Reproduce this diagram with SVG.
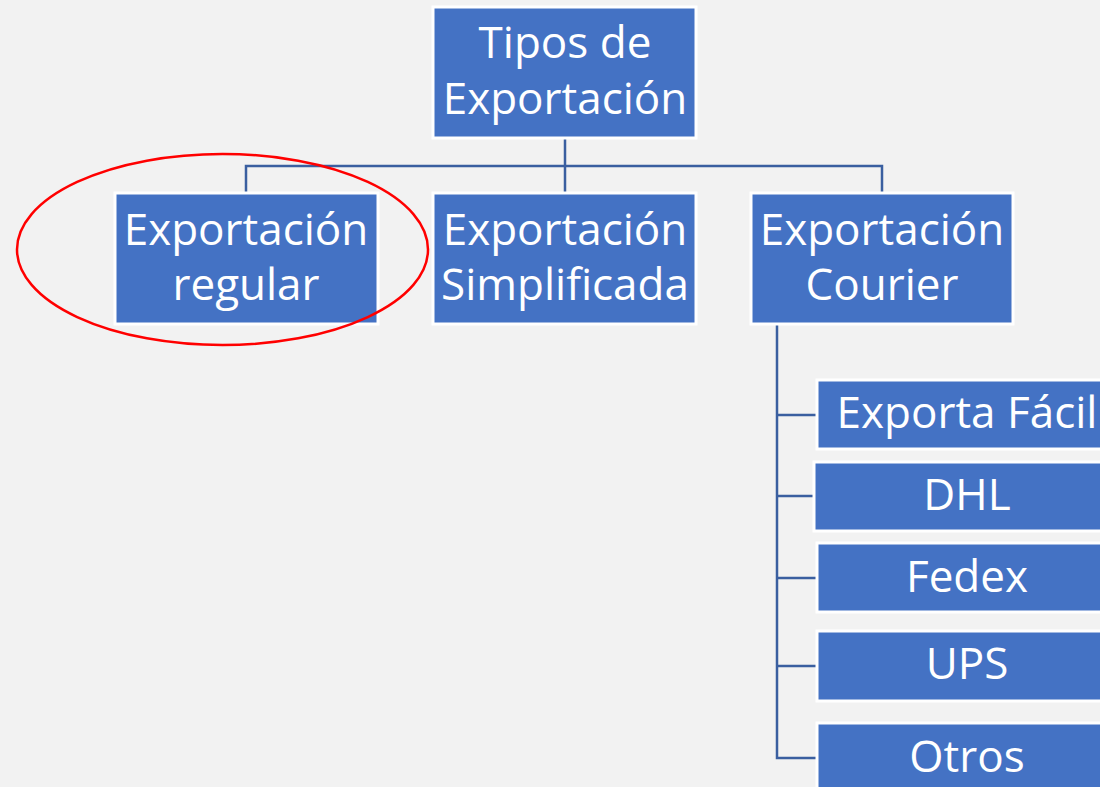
<svg xmlns="http://www.w3.org/2000/svg" width="1100" height="787" viewBox="0 0 1100 787">
<style>
.box{fill:#4472C4;stroke:#FFFFFF;stroke-width:3}
.t{font-family:"Open Sans","Noto Sans",sans-serif;font-size:44px;fill:#FFFFFF;text-anchor:middle}
.c{fill:none;stroke:#3A5FA0;stroke-width:2.5}
</style>
<rect width="1100" height="787" fill="#F2F2F2"/>
<g id="connectors">
<path class="c" d="M565,138 V166 M246,193 V166 H882 V193 M565,166 V193"/>
<path class="c" d="M777,324 V758 H817 M777,415 H817 M777,496 H814 M777,578 H817 M777,666 H817"/>
</g>
<g id="n-root"><rect class="box" x="433" y="7" width="263" height="131"/><text class="t" x="565" y="58">Tipos de</text><text class="t" x="565" y="114">Exportación</text></g>
<g id="n-regular"><rect class="box" x="115" y="193" width="263" height="131"/><text class="t" x="246" y="245">Exportación</text><text class="t" x="246" y="300">regular</text></g>
<g id="n-simplificada"><rect class="box" x="433" y="193" width="263" height="131"/><text class="t" x="565" y="245">Exportación</text><text class="t" x="565" y="300">Simplificada</text></g>
<g id="n-courier"><rect class="box" x="751" y="193" width="262" height="131"/><text class="t" x="882" y="245">Exportación</text><text class="t" x="882" y="300">Courier</text></g>
<g id="n-facil"><rect class="box" x="817" y="380" width="300" height="69"/><text class="t" x="967" y="428">Exporta Fácil</text></g>
<g id="n-dhl"><rect class="box" x="814" y="462" width="303" height="69"/><text class="t" x="967" y="510">DHL</text></g>
<g id="n-fedex"><rect class="box" x="817" y="543" width="300" height="69"/><text class="t" x="967" y="592">Fedex</text></g>
<g id="n-ups"><rect class="box" x="817" y="631" width="300" height="70"/><text class="t" x="967" y="679">UPS</text></g>
<g id="n-otros"><rect class="box" x="817" y="723" width="300" height="80"/><text class="t" x="967" y="772">Otros</text></g>
<ellipse cx="222.5" cy="249.5" rx="205.5" ry="95.5" fill="none" stroke="#FF0000" stroke-width="2.5"/>
</svg>
